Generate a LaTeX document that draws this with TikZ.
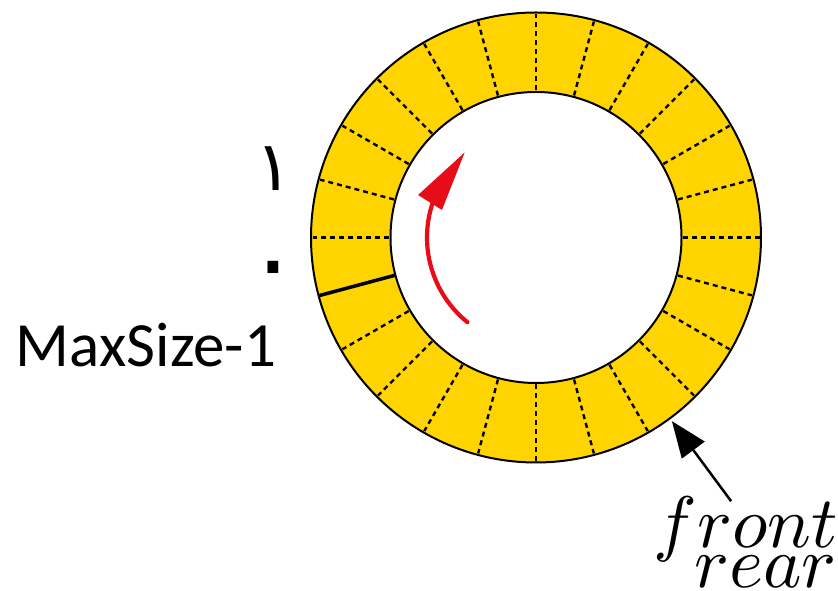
\documentclass[tikz,border=0pt]{standalone}
\usepackage{fontspec}
\usetikzlibrary{arrows.meta}
\TeXXeTstate=1
\newfontfamily\arabicfont[Script=Arabic]{DejaVu Sans}
\newfontfamily\calibfont{Carlito}
\definecolor{ringyellow}{RGB}{255,212,0}
\definecolor{arrowred}{RGB}{232,12,24}
\tikzset{
  celldiv/.style={line width=2.4pt, dash pattern=on 5pt off 4pt},
  ringline/.style={line width=2pt},
  labeltext/.style={inner sep=0pt, outer sep=0pt},
  bigmath/.style={inner sep=0pt, outer sep=0pt, scale=7.3},
}
\begin{document}
\begin{tikzpicture}[x=1pt,y=1pt]
\useasboundingbox (0,0) rectangle (838,591);
\begin{scope}[shift={(536,353.5)}]
  \coordinate (C) at (0,0);
  \fill[ringyellow, even odd rule] (C) circle (225) (C) circle (145.5);
  \foreach \a in {0,15,30,45,60,75,90,105,120,135,150,165,180,210,225,240,255,270,285,300,315,330,345}
    \draw[celldiv] (\a:147) -- (\a:223.5);
  \draw[line width=3.5pt] (195:145.5) -- (195:225);
  \draw[ringline] (C) circle (225) (C) circle (145.5);
  % red arrow
  \draw[arrowred, line width=4.2pt, line cap=round] (231:109) arc (231:161:109);
  \fill[arrowred] (130:111) -- (160.2:125.4) -- (163.7:98) -- cycle;
  % front arrow
  \coordinate (tail) at (-53.5:328);
  \coordinate (tip) at (-53.5:228.5);
  \draw[line width=2.5pt, -{Triangle[length=36pt,width=28pt]}] (tail) -- (tip);
\end{scope}
\node[labeltext, anchor=base, text depth=0pt] (one) at (274,400) {\fontsize{69}{75}\arabicfont\beginR ١\endR};
\node[labeltext, anchor=base, text height=45pt] (zero) at (273,295) {\fontsize{100}{110}\arabicfont\beginR ٠\endR};
\node[labeltext, anchor=base west] (maxsize) at (16,224) {\fontsize{63}{70}\calibfont MaxSize-1};
\node[bigmath, anchor=base east, text depth=0pt] (front) at (838,43) {$front$};
\node[bigmath, anchor=base east, text height=4.4pt] (rear) at (837,3) {$rear$};
\end{tikzpicture}
\end{document}
